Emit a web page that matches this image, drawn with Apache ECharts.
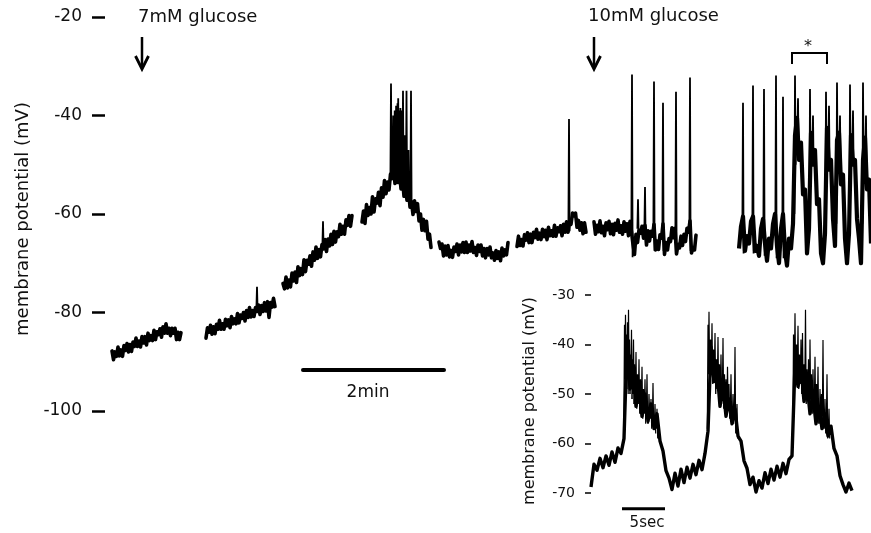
<!DOCTYPE html>
<html><head><meta charset="utf-8">
<script src="https://cdn.jsdelivr.net/npm/echarts/dist/echarts.min.js"></script>
<style>html,body{margin:0;padding:0;background:#fff}#c{width:871px;height:533px}</style>
</head><body><div id="c"></div>
<script>
// Time axis in recording units: 141 units = 2 min (main trace), 43 units = 5 s (inset)
// Main trace, sampled segments (membrane potential, mV)
const segStart = [112, 206, 283, 362, 439, 517, 594];
const segStep  = [1.5, 1.5, 1.5, 1.5, 1.5, 1.5, 1.5];
const trace1 = [-87.8,-89.6,-88.0,-88.9,-87.0,-88.8,-87.6,-88.9,-86.7,-87.7,-86.3,-88.0,-86.5,-87.9,-86.0,-86.9,
  -85.2,-86.9,-85.8,-87.0,-84.9,-86.2,-84.9,-86.6,-84.2,-85.7,-84.7,-85.7,-83.6,-85.5,-83.9,-84.5,
  -83.3,-85.0,-82.9,-84.2,-82.3,-84.2,-83.2,-84.7,-83.2,-84.2,-83.2,-85.5,-84.0,-85.5,-84.1];
const trace2 = [-85.2,-83.1,-84.0,-82.6,-84.4,-82.9,-84.3,-82.4,-83.4,-81.6,-83.4,-82.3,-83.4,-81.4,-82.7,-81.5,
  -83.1,-80.8,-82.3,-81.3,-82.3,-80.2,-82.1,-80.5,-81.2,-80.0,-81.7,-79.6,-81.0,-79.0,-80.9,-79.6,
  -80.8,-79.0,-79.8,-78.5,-80.4,-78.6,-79.8,-78.0,-79.7,-77.8,-81.0,-78.0,-78.9,-77.1,-78.8];
const trace3 = [-74.1,-75.2,-72.8,-75.0,-73.4,-74.8,-72.0,-73.6,-71.8,-73.9,-70.7,-72.5,-71.1,-72.3,-69.3,-71.7,
  -69.4,-70.2,-68.5,-70.6,-67.7,-69.4,-66.7,-69.0,-67.2,-68.7,-66.2,-67.1,-65.2,-67.6,-65.1,-66.5,
  -64.1,-66.2,-63.5,-65.7,-63.6,-64.6,-62.1,-64.1,-62.5,-64.1,-61.2,-62.3,-60.3,-62.5,-60.3];
const trace4 = [-61.6,-59.4,-61.9,-58.1,-60.3,-58.7,-60.0,-56.5,-59.6,-56.9,-57.8,-55.6,-58.3,-54.7,-56.6,-53.2,
  -55.9,-53.5,-55.1,-51.9,-52.8,-50.7,-53.8,-51.3,-53.6,-51.6,-54.9,-52.8,-56.4,-54.9,-57.2,-55.0,
  -58.6,-57.5,-60.1,-57.3,-59.5,-57.9,-61.4,-60.0,-63.3,-61.1,-63.4,-61.5,-65.1,-64.1,-66.8];
const trace5 = [-65.7,-67.0,-66.1,-68.5,-66.5,-68.3,-66.4,-68.7,-67.4,-68.8,-66.7,-67.6,-66.1,-68.3,-66.3,-67.7,
  -65.8,-67.8,-65.7,-67.8,-66.3,-67.5,-65.6,-67.8,-66.8,-68.4,-66.3,-67.6,-66.3,-68.5,-67.0,-68.9,
  -67.0,-68.3,-66.7,-68.9,-67.9,-69.4,-67.4,-69.0,-67.7,-69.5,-66.9,-68.5,-67.3,-68.3,-65.8];
const trace6 = [-66.6,-64.5,-66.4,-65.2,-66.5,-64.2,-65.3,-63.8,-65.8,-64.1,-65.8,-63.7,-64.8,-63.1,-65.1,-63.9,
  -65.2,-63.1,-64.6,-63.3,-65.2,-62.7,-64.4,-63.4,-64.5,-62.3,-64.5,-62.8,-63.6,-62.4,-64.4,-62.1,
  -63.7,-61.6,-63.7,-61.5,-62.1,-59.8,-60.4,-59.8,-62.7,-61.3,-63.3,-61.8,-64.0,-61.8,-63.7];
const trace7 = [-61.6,-64.1,-62.3,-63.6,-61.4,-63.8,-62.5,-64.4,-61.8,-63.2,-61.5,-64.0,-62.1,-64.2,-61.9,-63.3,
  -61.2,-63.7,-62.4,-64.1,-61.6,-63.5,-62.0,-64.4,-61.5,-63.6,-66.2,-68.2,-64.1,-65.8,-63.3,-63.9,
  -62.5,-64.9,-62.3,-66.3,-63.4,-65.5,-63.5,-64.5,-62.1,-67.3,-65.5,-67.2,-64.2,-64.9,-62.0,-68.2,
  -65.8,-67.3,-65.0,-65.6,-62.8,-64.8,-62.9,-68.1,-66.2,-66.9,-64.5,-66.4,-64.1,-65.6,-62.9,-63.7,
  -61.4,-67.9,-66.8,-67.3,-64.3];
// Last segment (bursting in 10 mM glucose)
const trace8Start = 739, trace8Step = 2;
const trace8 = [-67.0,-62.5,-60.5,-67.5,-64.5,-66.0,-61.5,-60.5,-67.5,-66.5,
  -68.5,-63.0,-61.0,-66.0,-69.5,-65.0,-67.0,-62.0,-60.0,-66.5,
  -70.0,-63.0,-60.0,-67.5,-70.5,-65.0,-67.0,-62.0,-44.0,-40.5,
  -49.0,-45.5,-56.0,-55.0,-68.0,-63.0,-43.5,-50.0,-47.0,-58.0,
  -57.0,-68.0,-70.0,-64.0,-42.5,-51.0,-49.0,-61.0,-66.5,-45.0,
  -43.5,-54.0,-52.0,-65.0,-70.0,-64.0,-44.0,-50.0,-49.0,-61.0,
  -65.0,-70.0,-49.0,-44.5,-55.0,-53.0,-66.0];
// Action potentials on main trace: [time, base, peak, after]
const mainSpikes = [
  [257,-79.2,-74.8,-79.5],[323,-66.5,-61.5,-67.0],
  [391,-53,-33.5,-52],[391.8,-52,-46,-51],[392.5,-51,-44,-52],[393.2,-52,-40,-51],[394,-51,-42,-52],
  [394.7,-52,-39,-51],[395.4,-51,-41,-52],[396.1,-52,-38,-51],[396.8,-51,-40,-52],[397.5,-52,-37.5,-51],
  [398.2,-51,-36.5,-52],[399,-52,-39,-53],[399.7,-53,-41,-52],[400.4,-52,-38.5,-53],[401.1,-53,-42,-54],
  [401.8,-54,-39,-55],[403,-54,-35,-55],[405,-55,-44,-56],[406.5,-56,-35,-57],[408.5,-57,-47,-58],[411,-57,-35,-58],
  [569,-62.8,-40.7,-63.5],
  [632,-62.5,-31.7,-68.8],[638,-63,-57,-64],[645,-63,-54.5,-65],[654,-62.5,-33.1,-67.5],
  [663,-62.8,-37.4,-67.5],[676,-63,-35.2,-67.5],[690,-62.5,-32.3,-67.5],
  [743,-61.5,-37.4,-68],[753,-61,-33.9,-68],[764,-61.5,-34.6,-68.5],[776,-60.5,-31.9,-69],
  [783,-60.5,-36.2,-69],[795,-60,-31.9,-50],[798,-44,-36.5,-47],[810,-61,-34.6,-52],
  [813,-47,-40,-50],[826,-62,-35.2,-50],[829,-47,-38,-50],[837,-62,-33.3,-50],[840,-46,-40,-50],
  [850,-62,-33.7,-50],[853,-47,-39,-50],[863,-62,-33.3,-50],[866,-47,-40,-52]
];
// Inset (expanded time base)
const insetStart = 591, insetStep = 3;
const insetTrace = [-68.8,-64.2,-65.4,-63.0,-64.9,-62.5,-64.4,-61.7,-63.8,-60.9,
  -62.0,-59.0,-40.0,-49.0,-44.5,-52.5,-48.0,-54.5,-50.0,-55.5,
  -52.0,-57.0,-54.0,-59.5,-61.5,-65.5,-67.0,-69.3,-66.0,-68.6,
  -65.2,-67.9,-64.8,-67.0,-64.2,-66.3,-63.4,-65.3,-62.0,-57.5,
  -40.5,-47.5,-45.0,-52.5,-48.5,-54.5,-51.0,-56.0,-53.0,-58.5,
  -59.5,-63.5,-65.0,-68.3,-66.8,-69.8,-67.5,-69.0,-65.9,-68.1,
  -65.2,-67.4,-64.6,-66.8,-64.0,-66.1,-63.2,-62.5,-44.0,-48.5,
  -44.5,-51.5,-48.0,-54.0,-50.5,-56.0,-52.5,-57.0,-54.0,-58.5,
  -56.5,-61.0,-62.5,-66.5,-68.3,-69.8,-68.0,-69.5];
const insetSpikes = [
  [624.5,-58,-36,-47],[625.5,-47,-34,-49],[626.5,-48,-38,-46],[627.5,-46,-35.5,-50],[628.5,-49,-33,-48],
  [629.5,-48,-39,-50],[630.5,-50,-42,-49],[631.5,-49,-37,-51],[632.5,-51,-43,-50],[633.5,-50,-39,-52],
  [634.5,-52,-44,-51],[636,-51,-41.5,-53],[637.5,-53,-46,-52],[639,-52,-43,-54],[640.5,-54,-47,-53],
  [642,-53,-44.5,-55],[643.5,-55,-49,-54],[645,-54,-47,-56],[647,-55,-46,-56],[649,-56,-50,-55],
  [651,-55,-51,-57],[653,-56,-47.8,-57],[655,-57,-52,-58],[657,-57,-53,-59],
  [708,-57,-36,-46],[709,-46,-33.4,-47],[710.5,-47,-39,-45],[712,-45,-35.7,-48],[713.5,-48,-41,-47],
  [715,-47,-37.7,-50],[716.5,-50,-43,-49],[718,-49,-38.5,-51],[719.5,-51,-44,-50],[721,-50,-42,-52],
  [723,-51,-38.7,-53],[724.5,-53,-46,-52],[726,-52,-47,-54],[727.5,-54,-44.5,-53],[729,-53,-48,-55],
  [731,-54,-46,-56],[733,-55,-50,-56],[735,-55,-40.5,-58],[737,-57,-52,-59],
  [793.5,-60,-38,-47],[795,-47,-33.7,-48],[796.5,-48,-40,-46],[798,-46,-36.2,-49],[799.5,-49,-42,-48],
  [801,-48,-39,-50],[802.5,-50,-37.7,-51],[804,-51,-44,-49],[805.5,-49,-33,-52],[807,-52,-45,-51],
  [808.5,-51,-43,-53],[810,-53,-39,-52],[811.5,-52,-46,-54],[813,-54,-45,-53],[815,-53,-42.5,-55],
  [816.5,-55,-48,-54],[818,-54,-44.5,-56],[820,-56,-49,-55],[821.5,-55,-50,-57],[823,-56,-39.1,-57],
  [825,-57,-51,-58],[827,-57,-46,-59],[829,-58,-53,-59]
];
const scale2min = [303, 444];   // 2 min
const scale2minLevel = -91.7;
const scale5s = [622, 665];     // 5 s
const scale5sLevel = -73.2;

const FONT = '"DejaVu Sans", sans-serif';
function buildTrace(starts, steps, segs) {
  const out = [];
  segs.forEach((vals, k) => {
    vals.forEach((v, i) => out.push([starts[k] + i * steps[k], v]));
    out.push([starts[k] + vals.length * steps[k], null]);
  });
  return out;
}
function buildSpikes(sp, w) {
  const out = [];
  sp.forEach(s => { out.push([s[0] - w, s[1]], [s[0], s[2]], [s[0] + w, s[3]], [s[0] + w, null]); });
  return out;
}
const mainBand = buildTrace(segStart, segStep, [trace1, trace2, trace3, trace4, trace5, trace6, trace7]);
const lastBand = buildTrace([trace8Start], [trace8Step], [trace8]);
const insetBand = buildTrace([insetStart], [insetStep], [insetTrace]);

const chart = echarts.init(document.getElementById('c'), null, {renderer: 'canvas'});
const lineBase = {type: 'line', showSymbol: false, symbol: 'none', animation: false, silent: true, connectNulls: false};
chart.setOption({
  backgroundColor: '#fff',
  animation: false,
  grid: [
    {left: 105, right: 0, top: 17, bottom: 122},
    {left: 591, right: 0, top: 295, bottom: 40}
  ],
  xAxis: [
    {type: 'value', gridIndex: 0, min: 105, max: 871, show: false},
    {type: 'value', gridIndex: 1, min: 591, max: 871, show: false}
  ],
  yAxis: [
    {type: 'value', gridIndex: 0, min: -100, max: -20, interval: 20,
     name: 'membrane potential (mV)', nameLocation: 'middle', nameGap: 72, nameRotate: 90,
     nameTextStyle: {fontFamily: FONT, fontSize: 18, color: '#111', padding: [0, 10, 0, 0]},
     axisLine: {show: false}, splitLine: {show: false},
     axisTick: {show: true, length: 13, lineStyle: {color: '#000', width: 2.5}},
     axisLabel: {fontFamily: FONT, fontSize: 17, color: '#111', margin: 23}},
    {type: 'value', gridIndex: 1, min: -70, max: -30, interval: 10,
     name: 'membrane potential (mV)', nameLocation: 'middle', nameGap: 53, nameRotate: 90,
     nameTextStyle: {fontFamily: FONT, fontSize: 16, color: '#111', padding: [0, 14, 0, 0]},
     axisLine: {show: false}, splitLine: {show: false},
     axisTick: {show: true, length: 6, lineStyle: {color: '#000', width: 1.5}},
     axisLabel: {fontFamily: FONT, fontSize: 14, color: '#111', margin: 16}}
  ],
  series: [
    Object.assign({}, lineBase, {name: 'trace', xAxisIndex: 0, yAxisIndex: 0, data: mainBand,
      lineStyle: {color: '#000', width: 3.6, join: 'round', cap: 'round'}}),
    Object.assign({}, lineBase, {name: 'trace (bursting)', xAxisIndex: 0, yAxisIndex: 0, data: lastBand,
      lineStyle: {color: '#000', width: 4.2, join: 'round'}}),
    Object.assign({}, lineBase, {name: 'spikes', xAxisIndex: 0, yAxisIndex: 0, data: buildSpikes(mainSpikes, 0.6),
      lineStyle: {color: '#000', width: 1.8}}),
    Object.assign({}, lineBase, {name: '2min', xAxisIndex: 0, yAxisIndex: 0, clip: false,
      data: [[scale2min[0], scale2minLevel], [scale2min[1], scale2minLevel]],
      lineStyle: {color: '#000', width: 4, cap: 'round'}}),
    Object.assign({}, lineBase, {name: 'inset', xAxisIndex: 1, yAxisIndex: 1, clip: false, data: insetBand,
      lineStyle: {color: '#000', width: 3.4, join: 'round'}}),
    Object.assign({}, lineBase, {name: 'insetSpikes', xAxisIndex: 1, yAxisIndex: 1, clip: false, data: buildSpikes(insetSpikes, 0.7),
      lineStyle: {color: '#000', width: 1.2}}),
    Object.assign({}, lineBase, {name: '5sec', xAxisIndex: 1, yAxisIndex: 1, clip: false,
      data: [[scale5s[0], scale5sLevel], [scale5s[1], scale5sLevel]],
      lineStyle: {color: '#000', width: 3}})
  ],
  graphic: [
    {type: 'text', left: 138, top: 8, style: {text: '7mM glucose', fontFamily: FONT, fontSize: 18, fill: '#111'}},
    {type: 'line', shape: {x1: 142, y1: 37, x2: 142, y2: 68}, style: {stroke: '#000', lineWidth: 2.5}},
    {type: 'polyline', shape: {points: [[135.5, 56], [142, 69], [148.5, 56]]}, style: {stroke: '#000', lineWidth: 2.8, fill: null}},
    {type: 'text', left: 588, top: 7, style: {text: '10mM glucose', fontFamily: FONT, fontSize: 18, fill: '#111'}},
    {type: 'line', shape: {x1: 594, y1: 37, x2: 594, y2: 68}, style: {stroke: '#000', lineWidth: 2.5}},
    {type: 'polyline', shape: {points: [[587.5, 56], [594, 69], [600.5, 56]]}, style: {stroke: '#000', lineWidth: 2.8, fill: null}},
    {type: 'polyline', shape: {points: [[792, 64], [792, 53], [827, 53], [827, 64]]}, style: {stroke: '#000', lineWidth: 2, fill: null}},
    {type: 'text', x: 808, y: 47, style: {text: '*', fontFamily: FONT, fontSize: 16, fill: '#111', align: 'center', verticalAlign: 'middle'}},
    {type: 'text', x: 368, y: 393, style: {text: '2min', fontFamily: FONT, fontSize: 17, fill: '#111', align: 'center', verticalAlign: 'middle'}},
    {type: 'text', x: 647, y: 523, style: {text: '5sec', fontFamily: FONT, fontSize: 15, fill: '#111', align: 'center', verticalAlign: 'middle'}}
  ]
});
</script></body></html>
